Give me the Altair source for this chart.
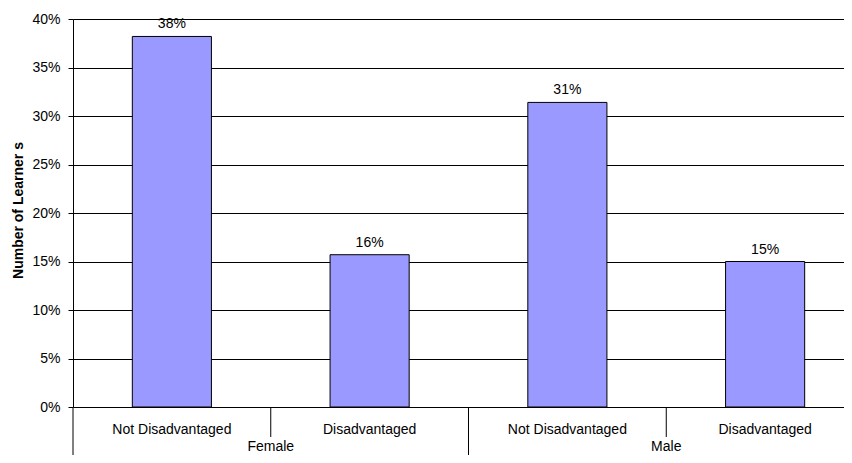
import altair as alt
import pandas as pd

groups = ["Female", "Female", "Male", "Male"]
subcats = ["Not Disadvantaged", "Disadvantaged", "Not Disadvantaged", "Disadvantaged"]
values = [0.382, 0.157, 0.314, 0.150]
labels = ["38%", "16%", "31%", "15%"]
y_ticks = [0, 0.05, 0.10, 0.15, 0.20, 0.25, 0.30, 0.35, 0.40]

keys = [f"{g}|{s}" for g, s in zip(groups, subcats)]
df = pd.DataFrame({"key": keys, "group": groups, "sub": subcats,
                   "value": values, "label": labels})

# separators below the axis: band starts of keys
sep_df = pd.DataFrame({"key": keys, "tall": [True, False, True, False]})
# group labels: centred on boundary between the group's two sub-categories
grp_df = pd.DataFrame({"key": [keys[1], keys[3]], "group": ["Female", "Male"]})

W, H = 771, 388
FONT = "Liberation Sans"
FS = 14

xscale = alt.Scale(domain=keys, range=[0, 791], paddingInner=0, paddingOuter=0)
yscale = alt.Scale(domain=[0, 0.4])

base = alt.Chart(df)

bars = base.mark_bar(width=alt.RelativeBandSize(0.40), color="#9999FF",
                     stroke="#000000", strokeWidth=1).encode(
    x=alt.X("key:N", scale=xscale, axis=None, sort=keys),
    y=alt.Y("value:Q", scale=yscale,
            axis=alt.Axis(values=y_ticks, format=".0%", grid=True,
                          gridColor="#000000", gridOpacity=1, gridWidth=1,
                          domainColor="#000000", tickColor="#000000",
                          tickSize=5, labelPadding=8, labelFontSize=FS,
                          labelFont=FONT, labelColor="#000000",
                          title="Number of Learner s", titleFont=FONT,
                          titleFontSize=14, titleFontWeight="bold",
                          titleColor="#000000", titleAngle=-90,
                          titleX=-55, titleY=191, titleBaseline="middle",
                          titleAlign="center")),
)

texts = base.mark_text(baseline="bottom", dy=-5, fontSize=FS, font=FONT,
                       color="#000000").encode(
    x=alt.X("key:N", scale=xscale, sort=keys),
    y=alt.Y("value:Q", scale=yscale),
    text="label:N",
)

sub_labels = base.mark_text(baseline="middle", fontSize=FS, font=FONT,
                            color="#000000").encode(
    x=alt.X("key:N", scale=xscale, sort=keys),
    y=alt.value(H + 23),
    text="sub:N",
)

grp_labels = alt.Chart(grp_df).mark_text(baseline="bottom", fontSize=FS, font=FONT,
                                         color="#000000").encode(
    x=alt.X("key:N", scale=xscale, sort=keys, bandPosition=0),
    y=alt.value(H + 47),
    text="group:N",
)

short_sep = alt.Chart(sep_df[~sep_df["tall"]]).mark_rule(color="#000000", strokeWidth=1).encode(
    x=alt.X("key:N", scale=xscale, sort=keys, bandPosition=0),
    y=alt.value(H),
    y2=alt.value(H + 30),
)

tall_sep = alt.Chart(sep_df[sep_df["tall"]]).mark_rule(color="#000000", strokeWidth=1).encode(
    x=alt.X("key:N", scale=xscale, sort=keys, bandPosition=0),
    y=alt.value(H),
    y2=alt.value(H + 60),
)

chart = alt.layer(bars, texts, sub_labels, grp_labels, short_sep, tall_sep).properties(
    width=W, height=H,
    autosize="none",
    padding={"left": 65, "top": 11, "right": 0, "bottom": 48},
).configure_view(stroke=None).configure(background="white")

chart.save("out.html", embed_options={"renderer": "svg", "actions": False})
